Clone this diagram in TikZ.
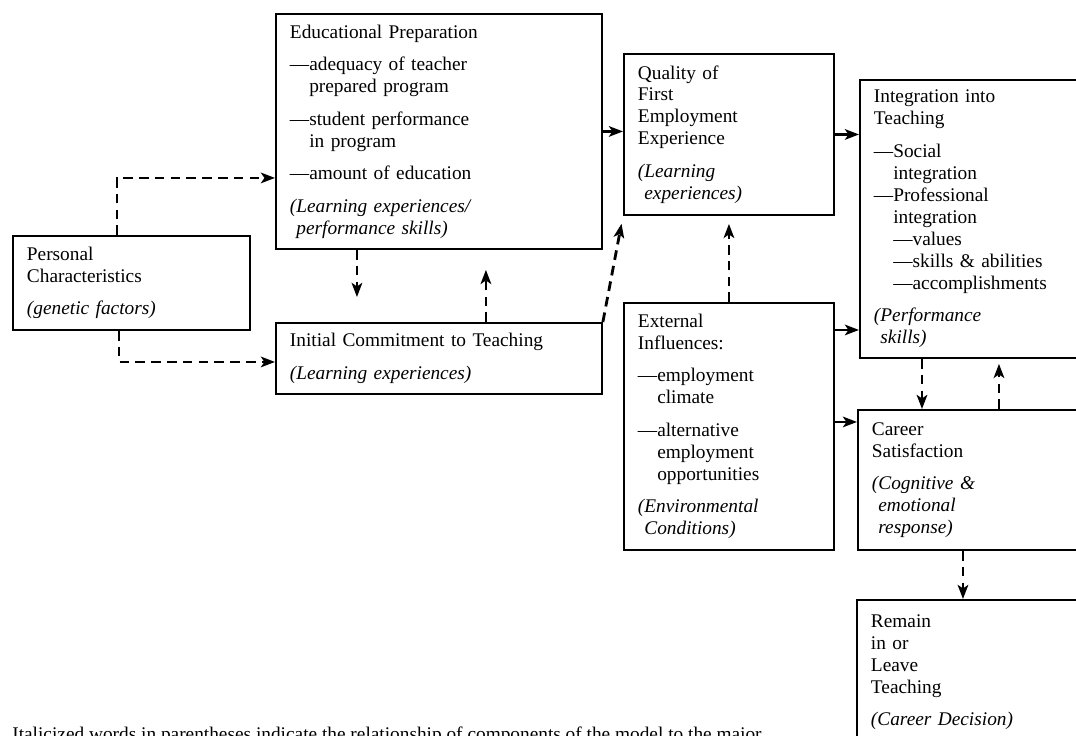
\documentclass[tikz,border=0pt]{standalone}
\usepackage{fontspec}
\setmainfont{Liberation Serif}
\usetikzlibrary{arrows.meta}
\newcommand{\dind}{\phantom{—}}

\begin{document}
\begin{tikzpicture}[x=0.02cm, y=-0.02cm,
  box/.style={draw, line width=1.1pt, anchor=north west, align=left, inner xsep=0.28cm, inner ysep=2pt, font=\fontsize{11}{12.5}\selectfont},
  dasharrow/.style={-{Stealth[length=8pt, width=6pt, inset=2pt]}, line width=1.6pt, dash pattern=on 5.5pt off 3.5pt},
  solidarrow/.style={-{Stealth[length=8pt, width=6pt, inset=2pt]}, line width=1.6pt}]
\useasboundingbox (0, 0) rectangle (1076, 735);
\clip (0, 0) rectangle (1076, 735);

\node [box, text width=4.18cm, minimum height=1.88cm] (pers) at (12, 235) {Personal\\ Characteristics\\[6pt] \textit{(genetic factors)}};
\node [box, text width=5.96cm, minimum height=4.70cm] (edu) at (275, 13) {Educational Preparation\\[6pt] —adequacy of teacher\\ \dind prepared program\\[6pt] —student performance\\ \dind in program\\[6pt] —amount of education\\[6pt] \textit{(Learning experiences/}\\ \textit{\ performance skills)}};
\node [box, text width=5.96cm, minimum height=1.42cm] (init) at (275, 322) {Initial Commitment to Teaching\\[6pt] \textit{(Learning experiences)}};
\node [box, text width=3.64cm, minimum height=3.22cm] (qual) at (623, 53) {Quality of\\ First\\ Employment\\ Experience\\[6pt] \textit{(Learning}\\ \textit{\ experiences)}};
\node [box, text width=3.64cm, minimum height=4.94cm] (ext) at (623, 302) {External\\ Influences:\\[6pt] —employment\\ \dind climate\\[6pt] —alternative\\ \dind employment\\ \dind opportunities\\[6pt] \textit{(Environmental}\\ \textit{\ Conditions)}};
\node [box, text width=4.04cm, minimum height=5.56cm] (integ) at (859, 79) {Integration into\\ Teaching\\[6pt] —Social\\ \dind integration\\ —Professional\\ \dind integration\\ \dind —values\\ \dind —skills \& abilities\\ \dind —accomplishments\\[6pt] \textit{(Performance}\\ \textit{\ skills)}};
\node [box, text width=4.08cm, minimum height=2.80cm] (car) at (857, 409) {Career\\ Satisfaction\\[6pt] \textit{(Cognitive \&}\\ \textit{\ emotional}\\ \textit{\ response)}};
\node [box, text width=4.10cm, minimum height=2.90cm] (rem) at (856, 599) {Remain\\ in or\\ Leave\\ Teaching\\[6pt] \textit{(Career Decision)}};

\node [anchor=base west, inner sep=0pt, font=\fontsize{11}{12.5}\selectfont] (note) at (12, 740) {Italicized words in parentheses indicate the relationship of components of the model to the major};

\draw [dasharrow] ([xshift=-0.29cm]pers.north) |- ([yshift=-0.93cm]edu.west);
\draw [dasharrow] ([xshift=-0.25cm]pers.south) |- ([yshift=-0.07cm]init.west);
\draw [dasharrow, shorten >=0.5cm] ([xshift=-1.64cm]edu.south) -- ([xshift=-1.64cm]init.north);
\draw [dasharrow, shorten >=0.4cm] ([xshift=0.94cm]init.north) -- ([xshift=0.94cm]edu.south);
\draw [dasharrow, shorten >=0.16cm] (init.north east) -- (qual.south west);
\draw [solidarrow] (edu.east) -- (edu.east -| qual.west);
\draw [solidarrow] (qual.east) -- (qual.east -| integ.west);
\draw [dasharrow, shorten >=0.16cm] (ext.north) -- (qual.south);

\coordinate (ei) at ([yshift=1.93cm]ext.east);
\coordinate (ec) at ([yshift=0.09cm]ext.east);
\draw [solidarrow] (ei) -- (ei -| integ.west);
\draw [solidarrow] (ec) -- (ec -| car.west);

\coordinate (k1) at ([xshift=1.26cm]integ.south west);
\coordinate (l1) at ([xshift=2.84cm]car.north west);
\coordinate (m1) at ([xshift=2.12cm]car.south west);
\draw [dasharrow] (k1) -- (k1 |- car.north);
\draw [dasharrow, shorten >=0.1cm] (l1) -- (l1 |- integ.south);
\draw [dasharrow] (m1) -- (m1 |- rem.north);
\end{tikzpicture}
\end{document}
